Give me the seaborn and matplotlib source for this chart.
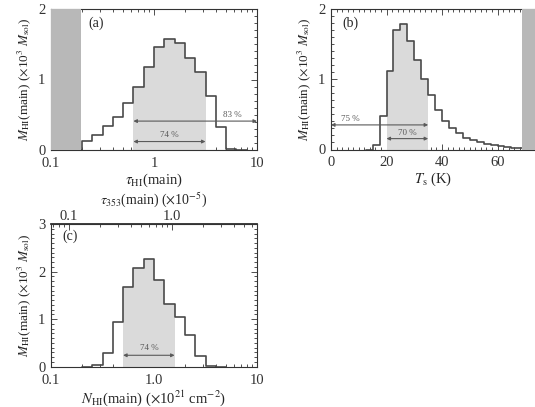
import numpy as np
import pandas as pd
import matplotlib
matplotlib.use("Agg")
import matplotlib.pyplot as plt
import matplotlib.ticker as mticker
import seaborn as sns

sns.set_theme(style="ticks")
plt.rcParams['font.family'] = ['Liberation Serif', 'DejaVu Serif']
plt.rcParams['mathtext.fontset'] = 'stix'

# (a) optical depth tau_HI, bin edges in log10
tau_edges = [-0.8, -0.7, -0.6, -0.5, -0.4, -0.3, -0.2, -0.1, 0.0,
             0.1, 0.2, 0.3, 0.4, 0.5, 0.6, 0.7, 0.8, 0.9]
tau_mass = [0.0, 0.13, 0.21, 0.34, 0.47, 0.66, 0.89, 1.18, 1.46,
            1.57, 1.52, 1.30, 1.11, 0.76, 0.32, 0.02, 0.0]

# (b) spin temperature Ts (K)
ts_edges = [12.5, 15.0, 17.5, 20.0, 22.5, 25.0, 27.5, 30.0, 32.5, 35.0,
            37.5, 40.0, 42.5, 45.0, 47.5, 50.0, 52.5, 55.0, 57.5, 60.0,
            62.5, 65.0, 67.5, 70.0]
ts_mass = [0.0, 0.06, 0.47, 1.12, 1.70, 1.78, 1.54, 1.27, 1.01, 0.77,
           0.56, 0.40, 0.30, 0.23, 0.17, 0.13, 0.10, 0.08, 0.06, 0.045,
           0.035, 0.025, 0.015]

# (c) column density N_HI, bin edges in log10
nh_edges = [-0.7, -0.6, -0.5, -0.4, -0.3, -0.2, -0.1, 0.0, 0.1,
            0.2, 0.3, 0.4, 0.5, 0.6, 0.7]
nh_mass = [0.0, 0.03, 0.29, 0.95, 1.68, 2.08, 2.26, 1.82, 1.32,
           1.04, 0.66, 0.23, 0.02, 0.0]

LINE = "#4a4a4a"
SHADE = "#dadada"
BAND = "#b8b8b8"
ARROW = "#5a5a5a"


def make_df(edges, mass, log):
    e = np.asarray(edges)
    d = pd.DataFrame({"lo": e[:-1], "hi": e[1:], "mass": mass})
    mid = (d["lo"] + d["hi"]) / 2
    d["x"] = 10 ** mid if log else mid
    return d


def draw_hist(ax, d, edges, log, shade_lo, shade_hi):
    # light grey part = central interval, then the full outline on top
    sub = d[(d["lo"] >= shade_lo - 1e-9) & (d["hi"] <= shade_hi + 1e-9)]
    sub_edges = list(sub["lo"]) + [sub["hi"].iloc[-1]]
    sns.histplot(data=sub, x="x", weights="mass", bins=sub_edges,
                 log_scale=log, element="step", fill=True, color=SHADE,
                 alpha=1, linewidth=0, ax=ax, zorder=1)
    sns.histplot(data=d, x="x", weights="mass", bins=edges,
                 log_scale=log, element="step", fill=False, color=LINE,
                 linewidth=1.2, ax=ax, zorder=2)


def arrow(ax, x0, x1, y, label, lx, ly):
    ax.annotate("", xy=(x1, y), xytext=(x0, y),
                arrowprops=dict(arrowstyle="<|-|>", color=ARROW, lw=0.8,
                                mutation_scale=5, shrinkA=0, shrinkB=0),
                zorder=4)
    ax.text(lx, ly, label, fontsize=6.5, color=ARROW, ha="center", va="center", zorder=4)


def style(ax, top=True):
    ax.tick_params(which="both", direction="in", top=top, right=True,
                   labelsize=10.5, width=0.6, colors="#333333")
    ax.tick_params(which="major", length=4.5)
    ax.tick_params(which="minor", length=2.2)
    ax.tick_params(axis="x", pad=5)
    ax.tick_params(axis="y", pad=4)
    for s in ax.spines.values():
        s.set_linewidth(0.8)
        s.set_color("#333333")


ylab = r"$M_{\mathrm{HI}}$(main) ($\times$10$^3$ $M_{\mathrm{sol}}$)"

fig = plt.figure(figsize=(5.35, 4.07), dpi=100)
W, H = 535, 407

# ---- (a)
ax_a = fig.add_axes([51 / W, (H - 150) / H, 206 / W, 141 / H])
da = make_df(tau_edges, tau_mass, True)
draw_hist(ax_a, da, tau_edges, True, -0.2, 0.5)
ax_a.axvspan(0.1, 0.195, color=BAND, lw=0, zorder=3)
ax_a.set_xlim(0.1, 10)
ax_a.set_ylim(0, 2)
ax_a.xaxis.set_major_locator(mticker.FixedLocator([0.1, 1, 10]))
ax_a.xaxis.set_major_formatter(mticker.FixedFormatter(["0.1", "1", "10"]))
ax_a.xaxis.set_minor_locator(mticker.LogLocator(subs=np.arange(2, 10), numticks=20))
ax_a.xaxis.set_minor_formatter(mticker.NullFormatter())
ax_a.yaxis.set_major_locator(mticker.MultipleLocator(1))
ax_a.yaxis.set_minor_locator(mticker.MultipleLocator(0.1))
arrow(ax_a, 10 ** -0.2, 10 ** 0.5, 0.12, "74 %", 10 ** 0.15, 0.21)
arrow(ax_a, 10 ** -0.2, 10, 0.41, "83 %", 5.8, 0.50)
ax_a.text(0.18, 0.90, "(a)", transform=ax_a.transAxes, fontsize=10, va="center")
ax_a.set_xlabel(r"$\tau_{\mathrm{HI}}$(main)", fontsize=10.5, labelpad=1)
ax_a.set_ylabel(ylab, fontsize=9.5, labelpad=4)
style(ax_a)

# ---- (b)
ax_b = fig.add_axes([331 / W, (H - 149.5) / H, 204 / W, 140.5 / H])
db = make_df(ts_edges, ts_mass, False)
draw_hist(ax_b, db, ts_edges, False, 20, 35)
ax_b.axvspan(68.8, 80, color=BAND, lw=0, zorder=3)
ax_b.set_xlim(0, 73.5)
ax_b.set_ylim(0, 2)
ax_b.xaxis.set_major_locator(mticker.FixedLocator([0, 20, 40, 60]))
ax_b.xaxis.set_minor_locator(mticker.MultipleLocator(2))
ax_b.yaxis.set_major_locator(mticker.MultipleLocator(1))
ax_b.yaxis.set_minor_locator(mticker.MultipleLocator(0.1))
arrow(ax_b, 0, 35, 0.35, "75 %", 6.8, 0.44)
arrow(ax_b, 20, 35, 0.155, "70 %", 27.5, 0.235)
ax_b.text(0.055, 0.90, "(b)", transform=ax_b.transAxes, fontsize=10, va="center")
ax_b.set_xlabel(r"$T_{\mathrm{s}}$ (K)", fontsize=10.5, labelpad=1)
ax_b.set_ylabel(ylab, fontsize=9.5, labelpad=4)
style(ax_b)

# ---- (c)
ax_c = fig.add_axes([51 / W, (H - 366.7) / H, 206 / W, 142.7 / H])
dc = make_df(nh_edges, nh_mass, True)
draw_hist(ax_c, dc, nh_edges, True, -0.3, 0.2)
ax_c.set_xlim(0.1, 10)
ax_c.set_ylim(0, 3)
ax_c.xaxis.set_major_locator(mticker.FixedLocator([0.1, 1, 10]))
ax_c.xaxis.set_major_formatter(mticker.FixedFormatter(["0.1", "1.0", "10"]))
ax_c.xaxis.set_minor_locator(mticker.LogLocator(subs=np.arange(2, 10), numticks=20))
ax_c.xaxis.set_minor_formatter(mticker.NullFormatter())
ax_c.yaxis.set_major_locator(mticker.MultipleLocator(1))
ax_c.yaxis.set_minor_locator(mticker.MultipleLocator(0.1))
arrow(ax_c, 10 ** -0.3, 10 ** 0.2, 0.24, "74 %", 10 ** -0.05, 0.40)
ax_c.text(0.053, 0.915, "(c)", transform=ax_c.transAxes, fontsize=10, va="center")
ax_c.set_xlabel(r"$N_{\mathrm{HI}}$(main) ($\times$10$^{21}$ cm$^{-2}$)", fontsize=10.5, labelpad=1)
ax_c.set_ylabel(ylab, fontsize=9.5, labelpad=4)
style(ax_c, top=False)

# top axis: tau_353 scale
sec = ax_c.secondary_xaxis("top", functions=(lambda x: x / 1.5, lambda x: x * 1.5))
sec.xaxis.set_major_locator(mticker.FixedLocator([0.1, 1.0]))
sec.xaxis.set_major_formatter(mticker.FixedFormatter(["0.1", "1.0"]))
sec.xaxis.set_minor_locator(mticker.LogLocator(subs=np.arange(2, 10), numticks=20))
sec.xaxis.set_minor_formatter(mticker.NullFormatter())
sec.tick_params(which="both", direction="in", labelsize=10.5, width=0.6, colors="#333333", pad=1)
sec.tick_params(which="major", length=4.5)
sec.tick_params(which="minor", length=2.2)
sec.set_xlabel(r"$\tau_{353}$(main) ($\times$10$^{-5}$)", fontsize=10, labelpad=4)

fig.savefig("out.png", dpi=100)
